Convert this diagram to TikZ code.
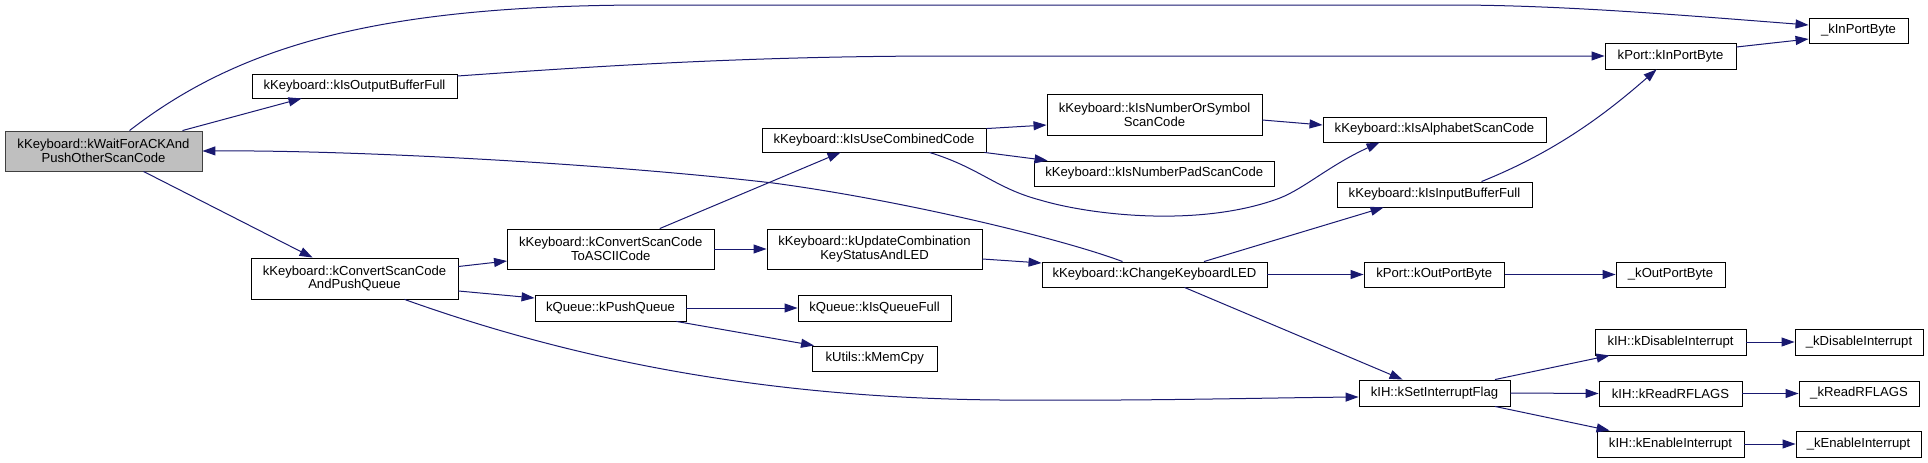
\documentclass[tikz,border=0pt]{standalone}
\usepackage{fontspec}
\setmainfont{Liberation Sans}
\usetikzlibrary{arrows.meta,calc}
\definecolor{edgec}{HTML}{191970}
\definecolor{rootfill}{HTML}{BFBFBF}
\definecolor{rootline}{HTML}{404040}
\tikzset{
  fn/.style={draw=black, line width=0.9pt, fill=white, inner sep=0pt, align=center,
    font=\fontsize{13.1}{13.7}\selectfont, text=black},
  edge/.style={draw=edgec, line width=1pt, -{Triangle[length=13pt,width=9pt]}},
}
\begin{document}
\begin{tikzpicture}[x=1pt,y=-1pt]
\useasboundingbox (0,0) rectangle (1928,463);
% nodes
\node[fn, fill=rootfill, draw=rootline, minimum width=197pt, minimum height=40pt] (wait) at (103.5,151) {kKeyboard::kWaitForACKAnd\\PushOtherScanCode};
\node[fn, minimum width=205pt, minimum height=24pt] (outbuf) at (354.5,86) {kKeyboard::kIsOutputBufferFull};
\node[fn, minimum width=207pt, minimum height=41pt] (cvtq) at (354.5,278.5) {kKeyboard::kConvertScanCode\\AndPushQueue};
\node[fn, minimum width=224pt, minimum height=24pt] (usecomb) at (874,140) {kKeyboard::kIsUseCombinedCode};
\node[fn, minimum width=206.5pt, minimum height=40pt] (cvtascii) at (610.75,249) {kKeyboard::kConvertScanCode\\ToASCIICode};
\node[fn, minimum width=215pt, minimum height=40pt] (upd) at (874.5,249) {kKeyboard::kUpdateCombination\\KeyStatusAndLED};
\node[fn, minimum width=151pt, minimum height=26pt] (pushq) at (610.5,308) {kQueue::kPushQueue};
\node[fn, minimum width=153pt, minimum height=26pt] (qfull) at (874.5,308) {kQueue::kIsQueueFull};
\node[fn, minimum width=124.5pt, minimum height=25pt] (memcpy) at (874.75,358.5) {kUtils::kMemCpy};
\node[fn, minimum width=215pt, minimum height=41pt] (numsym) at (1154.5,114.5) {kKeyboard::kIsNumberOrSymbol\\ScanCode};
\node[fn, minimum width=223pt, minimum height=25pt] (alpha) at (1434.5,129.5) {kKeyboard::kIsAlphabetScanCode};
\node[fn, minimum width=240.5pt, minimum height=25pt] (numpad) at (1154.25,173.5) {kKeyboard::kIsNumberPadScanCode};
\node[fn, minimum width=195pt, minimum height=25pt] (inbuf) at (1434.5,194.5) {kKeyboard::kIsInputBufferFull};
\node[fn, minimum width=225pt, minimum height=25pt] (led) at (1154.5,274.5) {kKeyboard::kChangeKeyboardLED};
\node[fn, minimum width=140.5pt, minimum height=25pt] (outport) at (1434.25,274.5) {kPort::kOutPortByte};
\node[fn, minimum width=151pt, minimum height=26pt] (setif) at (1434.5,393) {kIH::kSetInterruptFlag};
\node[fn, minimum width=131pt, minimum height=26pt] (inport) at (1670.5,56) {kPort::kInPortByte};
\node[fn, minimum width=99pt, minimum height=25pt] (uinport) at (1858.5,30.5) {\_kInPortByte};
\node[fn, minimum width=109pt, minimum height=25pt] (uoutport) at (1670.5,274.5) {\_kOutPortByte};
\node[fn, minimum width=151pt, minimum height=26pt] (disint) at (1670.5,342) {kIH::kDisableInterrupt};
\node[fn, minimum width=128pt, minimum height=26pt] (udisint) at (1859,342) {\_kDisableInterrupt};
\node[fn, minimum width=143pt, minimum height=25pt] (rflags) at (1670.5,393.5) {kIH::kReadRFLAGS};
\node[fn, minimum width=120pt, minimum height=25pt] (urflags) at (1859,393.5) {\_kReadRFLAGS};
\node[fn, minimum width=147pt, minimum height=26pt] (enint) at (1670.5,444) {kIH::kEnableInterrupt};
\node[fn, minimum width=125pt, minimum height=26pt] (uenint) at (1858.5,444) {\_kEnableInterrupt};
% edges
\draw[edge] ($(wait.north west)+(125,0)$) .. controls (240,45) and (380,5) .. (650,5) -- (1450,5) .. controls (1560,5) and (1680,15) .. ($(uinport.west)+(0,-5.5)$);
\draw[edge] ($(wait.north east)+(-20,0)$) -- ($(outbuf.south west)+(50,0)$);
\draw[edge] ($(outbuf.east)+(0,-10)$) .. controls (600,66) and (750,56) .. (950,56) -- (inport.west);
\draw[edge] ($(wait.south)+(40,0)$) -- ($(cvtq.north west)+(62,0)$);
\draw[edge] ($(led.north west)+(81,0)$) .. controls (1060,238) and (900,200) .. (773,183) .. controls (600,163) and (350,150) .. (wait.east);
\draw[edge] ($(cvtq.east)+(0,-12)$) -- ($(cvtascii.west)+(0,12)$);
\draw[edge] ($(cvtq.east)+(0,12.5)$) -- ($(pushq.west)+(0,-10)$);
\draw[edge] ($(cvtq.south west)+(154,0)$) .. controls (560,355) and (750,398) .. (1000,400) .. controls (1150,401) and (1250,398) .. ($(setif.west)+(0,4)$);
\draw[edge] ($(cvtascii.north)+(49,0)$) -- ($(usecomb.south west)+(79,0)$);
\draw[edge] (cvtascii.east) -- (upd.west);
\draw[edge] ($(usecomb.north east)+(0,1)$) -- ($(numsym.west)+(0,10.5)$);
\draw[edge] ($(usecomb.south east)+(-2,0)$) -- ($(numpad.north west)+(14,0)$);
\draw[edge] ($(usecomb.south west)+(168,0)$) .. controls (980,168) and (995,188) .. (1040,200) .. controls (1090,215) and (1200,228) .. (1280,198) .. controls (1305,188) and (1330,165) .. ($(alpha.south west)+(57,0)$);
\draw[edge] ($(numsym.east)+(0,5.5)$) -- ($(alpha.west)+(0,-4.5)$);
\draw[edge] ($(upd.east)+(0,10)$) -- ($(led.west)+(0,-11.5)$);
\draw[edge] (pushq.east) -- (qfull.west);
\draw[edge] ($(pushq.south east)+(-10,0)$) -- ($(memcpy.north west)+(2,0)$);
\draw[edge] ($(led.north)+(49.5,0)$) -- ($(inbuf.south west)+(47,0)$);
\draw[edge] (led.east) -- (outport.west);
\draw[edge] ($(led.south)+(30,0)$) -- ($(setif.north west)+(44,0)$);
\draw[edge] ($(inbuf.north east)+(-51,0)$) .. controls (1560,150) and (1610,110) .. ($(inport.south west)+(52,0)$);
\draw[edge] ($(inport.east)+(0,-9)$) -- ($(uinport.west)+(0,8.5)$);
\draw[edge] (outport.east) -- (uoutport.west);
\draw[edge] ($(setif.north east)+(-15.5,0)$) -- ($(disint.south west)+(15,0)$);
\draw[edge] (setif.east) -- (rflags.west);
\draw[edge] ($(setif.south east)+(-15.5,0)$) -- ($(enint.north west)+(13,0)$);
\draw[edge] (disint.east) -- (udisint.west);
\draw[edge] (rflags.east) -- (urflags.west);
\draw[edge] (enint.east) -- (uenint.west);
\end{tikzpicture}
\end{document}
